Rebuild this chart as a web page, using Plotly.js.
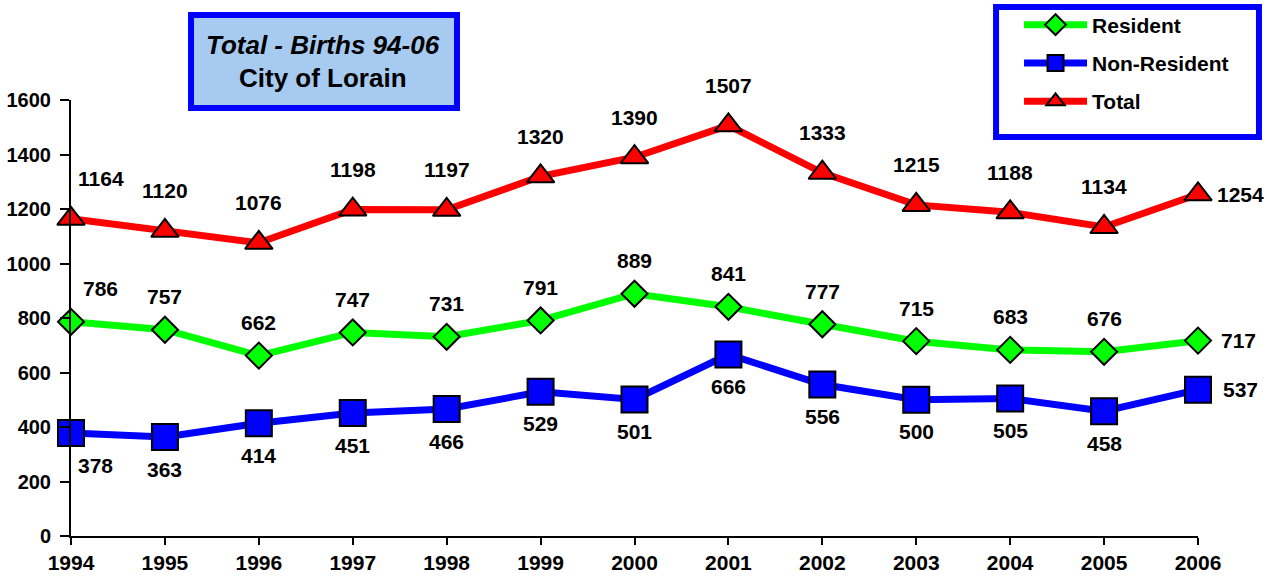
<!DOCTYPE html>
<html>
<head>
<meta charset="utf-8">
<script src="https://cdn.plot.ly/plotly-3.0.1.min.js"></script>
<style>html,body{margin:0;padding:0;background:#fff;}#chart{width:1267px;height:581px;}</style>
</head>
<body>
<div id="chart"></div>
<script>
const years = [1994,1995,1996,1997,1998,1999,2000,2001,2002,2003,2004,2005,2006];
const resident = [786,757,662,747,731,791,889,841,777,715,683,676,717];
const nonResident = [378,363,414,451,466,529,501,666,556,500,505,458,537];
const total = [1164,1120,1076,1198,1197,1320,1390,1507,1333,1215,1188,1134,1254];
const seriesNames = ["Resident","Non-Resident","Total"];
const titleLine1 = "Total - Births 94-06";
const titleLine2 = "City of Lorain";

const FONT = "Liberation Sans, Arial, sans-serif";
const labelFont = {family: FONT, size: 21, color: "#000"};

function trace(name, y, color, symbol, size, group) {
  return {
    x: years, y: y, name: name, type: "scatter", mode: "lines+markers",
    line: {color: color, width: 7},
    marker: {symbol: symbol, size: size, color: color, line: {color: "#000", width: 2}},
    cliponaxis: false, legendgroup: group, hoverinfo: "skip"
  };
}

const data = [
  trace(seriesNames[0], resident, "#00FF00", "diamond", 20, "a"),
  trace(seriesNames[1], nonResident, "#0000FF", "square", 26, "b"),
  trace(seriesNames[2], total, "#FF0000", "triangle-up", 24, "c")
];

const annotations = [];
function addLabels(vals, above, shift, firstX, lastX) {
  vals.forEach((v, i) => {
    const last = i === vals.length - 1;
    annotations.push({
      x: years[i], y: v, xref: "x", yref: "y", text: "<b>" + v + "</b>",
      showarrow: false, font: labelFont, xanchor: "center", yanchor: "middle",
      xshift: last ? lastX : (i === 0 ? firstX : 0),
      yshift: last ? 0 : (above ? shift : -shift)
    });
  });
}
addLabels(total, true, 40, 30, 42);
addLabels(resident, true, 33, 29, 40);
addLabels(nonResident, false, 32, 24, 42);

annotations.push({xref: "paper", yref: "paper", x: 0.2236, y: 1.126, xanchor: "center", yanchor: "middle",
  text: "<b><i>" + titleLine1 + "</i></b>", showarrow: false, font: {family: FONT, size: 26, color: "#000"}});
annotations.push({xref: "paper", yref: "paper", x: 0.2236, y: 1.050, xanchor: "center", yanchor: "middle",
  text: "<b>" + titleLine2 + "</b>", showarrow: false, font: {family: FONT, size: 26, color: "#000"}});

const shapes = [
  {type: "rect", xref: "paper", yref: "paper", x0: 0.1065, x1: 0.3425, y0: 0.9817, y1: 1.195,
   fillcolor: "#A6CAF0", line: {color: "#0000FF", width: 6}, layer: "below"},
  {type: "rect", xref: "paper", yref: "paper", x0: 0.8208, x1: 1.0541, y0: 0.9151, y1: 1.2133,
   fillcolor: "#FFFFFF", line: {color: "#0000FF", width: 6}, layer: "below"}
];

const layout = {
  width: 1267, height: 581,
  margin: {l: 71, r: 69, t: 100, b: 45, autoexpand: false},
  paper_bgcolor: "#fff", plot_bgcolor: "rgba(0,0,0,0)",
  showlegend: true,
  legend: {x: 0.8412, y: 1.219, xanchor: "left", yanchor: "top", bgcolor: "rgba(0,0,0,0)",
    font: {family: FONT, size: 21, color: "#000", weight: "bold"}, itemwidth: 63,
    tracegroupgap: 8, traceorder: "grouped"},
  xaxis: {range: [1994, 2006], tickmode: "array", tickvals: years, ticktext: years.map(String),
    showgrid: false, zeroline: false, showline: true, linecolor: "#000", linewidth: 2,
    ticks: "outside", ticklen: 7, tickwidth: 2, tickcolor: "#000",
    tickfont: {family: FONT, size: 21, color: "#000", weight: "bold"}},
  yaxis: {range: [0, 1600], dtick: 200, showgrid: false, zeroline: false, showline: true,
    linecolor: "#000", linewidth: 2, ticks: "outside", ticklen: 9, tickwidth: 2, tickcolor: "#000",
    ticklabelstandoff: 5,
    tickfont: {family: FONT, size: 20, color: "#000", weight: "bold"}},
  annotations: annotations, shapes: shapes
};

Plotly.newPlot("chart", data, layout, {displayModeBar: false, staticPlot: true});
</script>
</body>
</html>
